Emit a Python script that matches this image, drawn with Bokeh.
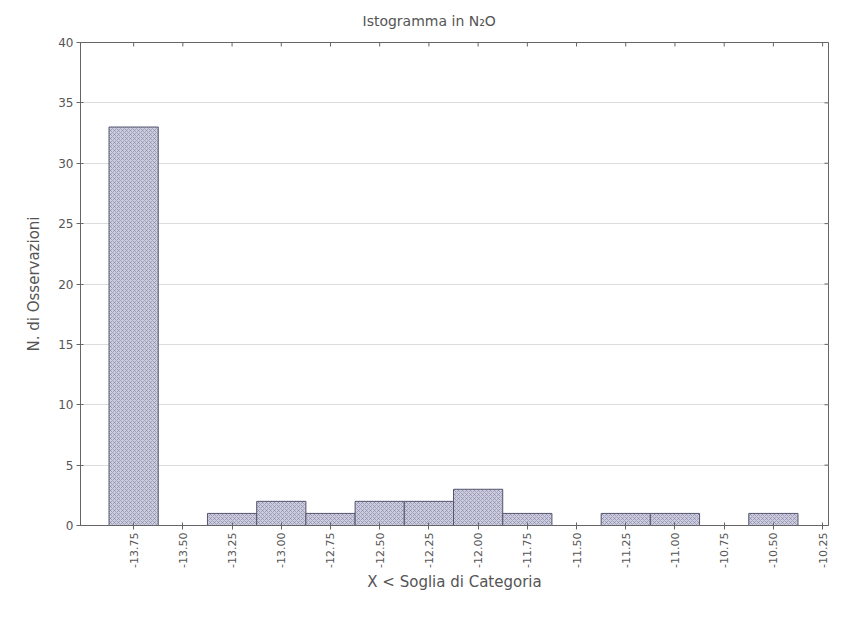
import math
from bokeh.plotting import figure
from bokeh.models import FixedTicker, Range1d, ColumnDataSource
from bokeh.embed import file_html
from bokeh.resources import INLINE

# ---- data ----
thresholds = [-13.75, -13.50, -13.25, -13.00, -12.75, -12.50, -12.25, -12.00,
              -11.75, -11.50, -11.25, -11.00, -10.75, -10.50, -10.25]
tick_labels = ["-13.75", "-13.50", "-13.25", "-13.00", "-12.75", "-12.50", "-12.25", "-12.00",
               "-11.75", "-11.50", "-11.25", "-11.00", "-10.75", "-10.50", "-10.25"]
counts = [33, 0, 1, 2, 1, 2, 2, 3, 1, 0, 1, 1, 0, 1, 0]
y_ticks = [0, 5, 10, 15, 20, 25, 30, 35, 40]

FONT = "DejaVu Sans"
TXT = "#555555"
AX = "#666666"

X0, X1, Y0, Y1 = -14.02, -10.22, 0, 40

p = figure(width=846, height=617, output_backend="svg", toolbar_location=None,
           x_range=Range1d(X0, X1), y_range=Range1d(Y0, Y1),
           min_border_left=80, min_border_right=18, min_border_top=42, min_border_bottom=92,
           title="Istogramma in N\u2082O")
p.title.align = "left"
p.title.offset = 282
p.title.vertical_align = "top"
p.title.text_font = FONT
p.title.text_font_size = "14px"
p.title.text_font_style = "normal"
p.title.text_color = TXT
p.title.standoff = 24

src = ColumnDataSource(dict(x=[t for t, c in zip(thresholds, counts) if c > 0],
                            top=[c for c in counts if c > 0]))
p.vbar(x="x", top="top", width=0.25, source=src,
       fill_color="#cdcde0", line_color="#55556e", line_width=1,
       hatch_pattern="diagonal_cross", hatch_color="#8282a0", hatch_scale=4, hatch_weight=0.6)

# tick marks on top and right edges of the frame (inner ticks)
p.scatter(x=thresholds, y=[Y1] * len(thresholds), marker="dash", angle=math.pi / 2,
          size=8, line_color=AX, line_width=1)
p.scatter(x=[X1] * len(y_ticks), y=y_ticks, marker="dash", size=8, line_color=AX, line_width=1)

p.outline_line_color = AX
p.background_fill_color = "white"
p.border_fill_color = "white"

p.xgrid.visible = False
p.ygrid.ticker = FixedTicker(ticks=y_ticks)
p.ygrid.grid_line_color = "#dddddd"
p.ygrid.grid_line_width = 1

xa = p.xaxis[0]
xa.ticker = FixedTicker(ticks=thresholds)
xa.major_label_overrides = {t: l for t, l in zip(thresholds, tick_labels)}
xa.major_label_orientation = math.pi / 2
xa.axis_label = "X < Soglia di Categoria"
ya = p.yaxis[0]
ya.ticker = FixedTicker(ticks=y_ticks)
ya.axis_label = "N. di Osservazioni"

for ax in (xa, ya):
    ax.major_label_text_font = FONT
    ax.major_label_text_color = TXT
    ax.axis_label_text_font = FONT
    ax.axis_label_text_font_size = "15px"
    ax.axis_label_text_font_style = "normal"
    ax.axis_label_text_color = TXT
    ax.axis_line_color = AX
    ax.major_tick_line_color = AX
    ax.major_tick_out = 4
    ax.major_tick_in = 3
    ax.minor_tick_line_color = None

xa.major_label_text_font_size = "11px"
ya.major_label_text_font_size = "12px"
xa.major_label_standoff = 3
ya.major_label_standoff = 3
xa.axis_label_standoff = 2
ya.axis_label_standoff = 12

open("out.html", "w").write(file_html(p, INLINE))
